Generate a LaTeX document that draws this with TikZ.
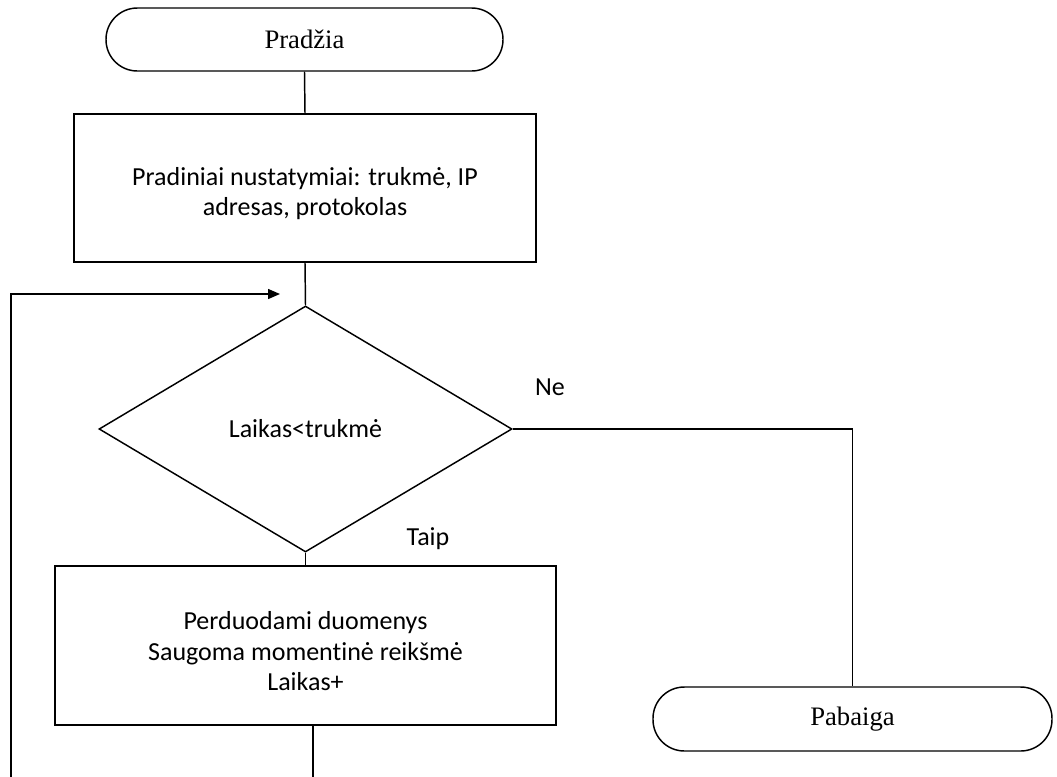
\documentclass[tikz,border=0pt]{standalone}
\usepackage{fontspec}
\setmainfont{Carlito}[Ligatures=NoCommon]
\newfontfamily\termfont{Liberation Serif}
\usetikzlibrary{shapes.geometric,arrows.meta,calc}
\newcommand{\toppad}{\rule{0pt}{22pt}}
\tikzset{
  line/.style={draw=black,line width=1.1pt},
  terminal/.style={line, rectangle, rounded corners=23.5pt, inner sep=0pt,
    font=\termfont\fontsize{20}{24}\selectfont},
  procbox/.style={line, rectangle, inner sep=0pt, align=center,
    font=\fontsize{19.5}{23}\selectfont},
  decision/.style={line, diamond, inner sep=0pt,
    font=\fontsize{19.5}{23}\selectfont},
  lbl/.style={inner sep=0pt, font=\fontsize{19.5}{23}\selectfont},
  conn/.style={line}
}
\begin{document}
\begin{tikzpicture}[x=0.75pt,y=-0.75pt]
\useasboundingbox (0,0) rectangle (1057,776);
\clip (0,0) rectangle (1057,776);
\node[terminal, minimum width=297.75pt, minimum height=47.25pt] (start) at (304.5,39.5) {Pradžia};
\node[procbox, minimum width=346.5pt, minimum height=111pt] (box1) at (305,188)
  {\toppad Pradiniai nustatymiai: trukmė, IP\\adresas, protokolas};
\node[decision, minimum width=309.75pt, minimum height=184.5pt] (dia) at (305.5,429) {Laikas<trukmė};
\node[procbox, minimum width=375.75pt, minimum height=119.25pt] (box2) at (305.5,645.5)
  {\toppad Perduodami duomenys\\Saugoma momentinė reikšmė\\Laikas+};
\node[terminal, minimum width=299.25pt, minimum height=48pt] (end) at (852.5,719) {Pabaiga};
\node[lbl] (ne) at (550,387) {Ne};
\node[lbl] (taip) at (428,539) {Taip};
\coordinate (loopout) at ($(box2.south)+(7.5,0)$);
\coordinate (loopend) at (280,294);
\draw[conn] (start.south) -- (box1.north);
\draw[conn] (box1.south) -- (dia.north);
\draw[conn] (dia.south) -- (box2.north);
\draw[conn] (dia.east) -| (end.north);
\draw[conn, -{Triangle[length=9pt,width=7.5pt]}] (loopout) -- ++(0,90) -| (11,294) -- (loopend);
\end{tikzpicture}
\end{document}
